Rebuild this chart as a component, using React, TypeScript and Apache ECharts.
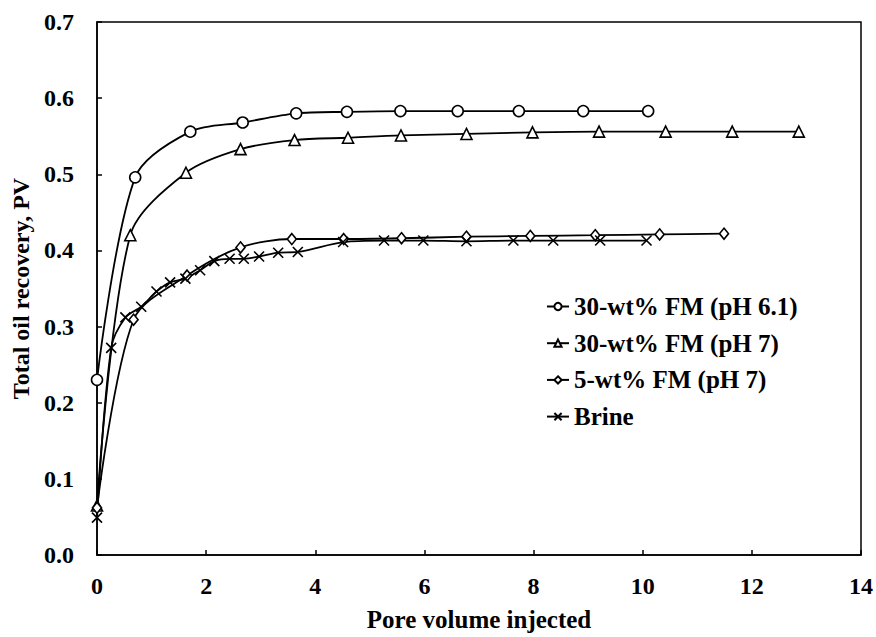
import React, { useEffect, useRef } from "react";
import * as echarts from "echarts";

// Pore volume injected (x) and total oil recovery (y)
const fm30ph61X = [0, 0.70, 1.71, 2.67, 3.65, 4.58, 5.56, 6.61, 7.73, 8.91, 10.10];
const fm30ph61Y = [0.23, 0.496, 0.556, 0.568, 0.580, 0.582, 0.583, 0.583, 0.583, 0.583, 0.583];

const fm30ph7X = [0, 0.61, 1.63, 2.63, 3.62, 4.60, 5.57, 6.77, 7.98, 9.20, 10.42, 11.64, 12.86];
const fm30ph7Y = [0.065, 0.420, 0.502, 0.533, 0.545, 0.548, 0.551, 0.553, 0.555, 0.556, 0.556, 0.556, 0.556];

const fm5ph7X = [0, 0.67, 1.65, 2.63, 3.57, 4.52, 5.58, 6.77, 7.94, 9.13, 10.31, 11.49];
const fm5ph7Y = [0.062, 0.309, 0.367, 0.404, 0.415, 0.415, 0.416, 0.418, 0.419, 0.420, 0.421, 0.422];

const brineX = [0, 0.26, 0.52, 0.81, 1.09, 1.34, 1.62, 1.89, 2.15, 2.43, 2.69, 2.97, 3.32, 3.68, 4.51, 5.26, 5.98, 6.77, 7.63, 8.36, 9.22, 10.07];
const brineY = [0.049, 0.272, 0.312, 0.326, 0.346, 0.358, 0.363, 0.374, 0.386, 0.389, 0.389, 0.392, 0.397, 0.398, 0.411, 0.413, 0.413, 0.412, 0.413, 0.413, 0.413, 0.413];

const seriesNames = ["30-wt% FM (pH 6.1)", "30-wt% FM (pH 7)", "5-wt% FM (pH 7)", "Brine"];

const xTitle = "Pore volume injected";
const yTitle = "Total oil recovery, PV";

const FONT = "'Liberation Serif', 'Times New Roman', serif";

const zip = (xs: number[], ys: number[]) => xs.map((x, i) => [x, ys[i]]);

export default function App() {
  const ref = useRef<HTMLDivElement>(null);

  useEffect(() => {
    if (!ref.current) return;
    const chart = echarts.init(ref.current, undefined, { renderer: "svg" });

    const lineStyle = { color: "#000", width: 1.8 };
    const itemStyle = { color: "#fff", borderColor: "#000", borderWidth: 1.6 };
    const common = {
      type: "line" as const,
      smooth: 0.3,
      lineStyle,
      itemStyle,
      showAllSymbol: true,
      emphasis: { disabled: true },
    };

    const base = { fontFamily: FONT, fontWeight: "bold" as const, color: "#000" };

    chart.setOption({
      animation: false,
      backgroundColor: "#fff",
      grid: {
        left: 97,
        right: 15,
        top: 22,
        bottom: 78,
        show: true,
        borderColor: "#000",
        borderWidth: 1.5,
        backgroundColor: "transparent",
      },
      xAxis: {
        type: "value",
        min: 0,
        max: 14,
        interval: 2,
        name: xTitle,
        nameLocation: "middle",
        nameGap: 52,
        nameTextStyle: { ...base, fontSize: 25 },
        axisLine: { show: true, lineStyle: { color: "#000", width: 1.5 } },
        axisTick: { show: true, inside: true, length: 5, lineStyle: { color: "#000", width: 1.5 } },
        splitLine: { show: false },
        axisLabel: { ...base, fontSize: 24, margin: 19 },
      },
      yAxis: {
        type: "value",
        min: 0,
        max: 0.7,
        interval: 0.1,
        name: yTitle,
        nameLocation: "middle",
        nameGap: 59,
        nameTextStyle: { ...base, fontSize: 24 },
        axisLine: { show: true, lineStyle: { color: "#000", width: 1.5 } },
        axisTick: { show: true, inside: true, length: 5, lineStyle: { color: "#000", width: 1.5 } },
        splitLine: { show: false },
        axisLabel: { ...base, fontSize: 24, margin: 23, formatter: (v: number) => v.toFixed(1) },
      },
      legend: {
        orient: "vertical",
        left: 541,
        top: 289,
        itemWidth: 22,
        itemHeight: 9,
        itemGap: 11.7,
        textStyle: { ...base, fontSize: 25, lineHeight: 25 },
        data: seriesNames,
      },
      series: [
        { ...common, name: seriesNames[0], data: zip(fm30ph61X, fm30ph61Y), symbol: "circle", symbolSize: 11 },
        { ...common, name: seriesNames[1], data: zip(fm30ph7X, fm30ph7Y), symbol: "triangle", symbolSize: 11 },
        { ...common, name: seriesNames[2], data: zip(fm5ph7X, fm5ph7Y), symbol: "diamond", symbolSize: [9, 11] },
        { ...common, name: seriesNames[3], data: zip(brineX, brineY), symbol: "path://M0,0L10,10M10,0L0,10", symbolSize: 10 },
      ],
    });

    return () => chart.dispose();
  }, []);

  return (
    <div
      ref={ref}
      style={{ position: "absolute", left: 0, top: 0, width: 876, height: 637 }}
    />
  );
}
